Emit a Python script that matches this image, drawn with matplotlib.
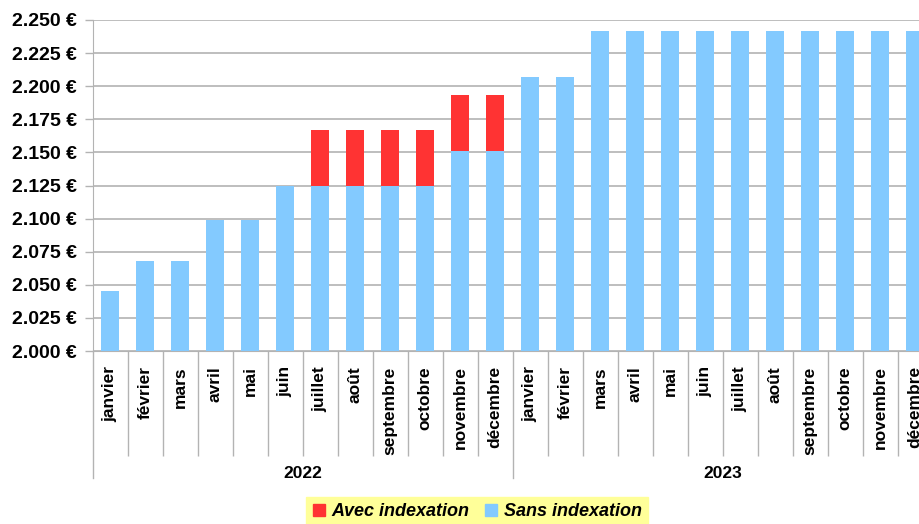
import matplotlib

matplotlib.use("Agg")
import matplotlib.pyplot as plt
from matplotlib.lines import Line2D
from matplotlib.ticker import FuncFormatter, MultipleLocator

plt.rcParams["font.family"] = ["Liberation Sans", "DejaVu Sans"]

# --------------------------------------------------------------------------- #
# data (euros per month)
# --------------------------------------------------------------------------- #
months = ["janvier", "février", "mars", "avril", "mai", "juin", "juillet",
          "août", "septembre", "octobre", "novembre", "décembre"]
years = ["2022", "2023"]
sans_indexation = [2045, 2068, 2068, 2099, 2099, 2125, 2125, 2125, 2125, 2125, 2151, 2151,
                   2207, 2207, 2242, 2242, 2242, 2242, 2242, 2242, 2242, 2242, 2242, 2242]
avec_indexation_extra = [0, 0, 0, 0, 0, 0, 42, 42, 42, 42, 42, 42,
                         0, 0, 0, 0, 0, 0, 0, 0, 0, 0, 0, 0]

BLUE = "#83caff"
RED = "#ff3333"
GREY = "#b3b3b3"

labels = months * len(years)
n = len(labels)
x = [i + 0.5 for i in range(n)]

fig = plt.figure(figsize=(9.2, 5.24), dpi=100)
# axes runs past the right edge, as in the (cropped) reference
ax = fig.add_axes([92.7 / 920, 1 - 351 / 524, 840 / 920, 331 / 524])

ax.bar(x, sans_indexation, width=0.52, color=BLUE, zorder=3)
ax.bar(x, avec_indexation_extra, width=0.52, bottom=sans_indexation, color=RED, zorder=3)

ax.set_xlim(0, n)
ax.set_ylim(2000, 2250)
ax.yaxis.set_major_locator(MultipleLocator(25))
ax.yaxis.set_major_formatter(FuncFormatter(lambda v, _: f"{int(round(v)):,} €".replace(",", ".")))
ax.grid(axis="y", color=GREY, linewidth=1.2, zorder=0)
ax.tick_params(axis="y", length=6, color=GREY, width=1, labelsize=14, pad=5.5)
for t in ax.get_yticklabels():
    t.set_fontweight("bold")

for side in ("top", "right"):
    ax.spines[side].set_visible(False)
for side in ("left", "bottom"):
    ax.spines[side].set_color(GREY)

# month labels at centres, boundary ticks between months
ax.set_xticks(x)
ax.set_xticklabels(labels, rotation=90, fontsize=12.5, fontweight="bold")
ax.tick_params(axis="x", which="major", length=0, pad=11)
ax.set_xticks([i for i in range(n + 1) if i % 12], minor=True)
ax.tick_params(axis="x", which="minor", length=75.6, color=GREY, width=1)

# year group separators and labels
xt = ax.get_xaxis_transform()
for b in range(0, n + 1, 12):
    ax.plot([b, b], [0, -127 / 331], color=GREY, linewidth=1, transform=xt, clip_on=False)
for k, yr in enumerate(years):
    ax.text(12 * k + 6, -122 / 331, yr, transform=xt, ha="center", va="center",
            fontsize=12.5, fontweight="bold")

handles = [Line2D([], [], marker="s", linestyle="none", color=RED, markersize=9),
           Line2D([], [], marker="s", linestyle="none", color=BLUE, markersize=9)]
leg = fig.legend(handles, ["Avec indexation", "Sans indexation"], ncol=2,
                 loc="center", bbox_to_anchor=(477 / 920, 1 - 512 / 524),
                 frameon=True, fancybox=False, facecolor="#ffff99", edgecolor="#ffff99",
                 framealpha=1, handletextpad=0.3, columnspacing=0.8, borderpad=0.35,
                 handlelength=0.8, prop={"weight": "bold", "style": "italic", "size": 13})

fig.savefig("out.png", dpi=100)
plt.close(fig)
